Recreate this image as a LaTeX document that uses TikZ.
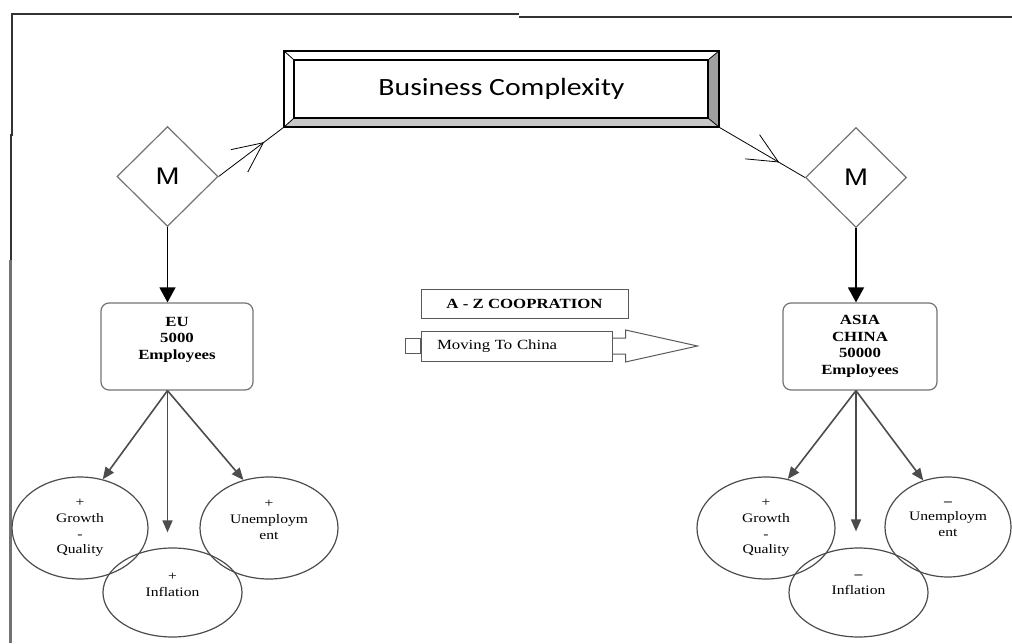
\documentclass[tikz,border=0pt]{standalone}
\usepackage{fontspec}
\setmainfont{Liberation Serif}[FakeStretch=1.2]
\newfontfamily\bcfont{Carlito}[FakeStretch=1.2]
\newfontfamily\mfont{Liberation Sans}[FakeStretch=1.2]
\usetikzlibrary{shapes.geometric,arrows.meta,decorations.markings}

\definecolor{bevelgray}{HTML}{A0A0A0}
\definecolor{bevellight}{HTML}{C8C8C8}

\tikzset{
  bcbox/.style={minimum width=217.5pt, minimum height=38pt, inner sep=0pt,
    font=\bcfont\fontsize{12.4}{14}\selectfont},
  mdiamond/.style={diamond, draw=black!55, line width=0.6pt, minimum width=50.5pt,
    minimum height=50pt, inner sep=0pt, font=\mfont\fontsize{12}{14}\selectfont},
  regionbox/.style={draw=black!55, line width=0.6pt, rounded corners=4pt, align=center,
    inner sep=0pt, minimum height=43.5pt, font=\bfseries\fontsize{7}{8.25}\selectfont},
  effect/.style={ellipse, draw=black!70, line width=0.6pt, inner sep=0pt, align=center,
    font=\fontsize{6.5}{7.9}\selectfont},
  labelbox/.style={draw=black!65, line width=0.5pt, inner sep=0pt},
  downarrow/.style={-{Triangle[length=7.5pt,width=8pt]}, line width=0.7pt},
  effarrow/.style={-{Triangle[length=6pt,width=5pt]}, draw=black!70, line width=0.8pt},
  linkarrow/.style={thin, postaction={decorate},
    decoration={markings, mark=at position 0.7 with {\arrow{Straight Barb[length=15pt,width=14pt]}}}},
}

\begin{document}
\begin{tikzpicture}[x=0.5pt, y=-0.5pt]
    \useasboundingbox (0,0) rectangle (1012,643);

    % page frame
    \draw[line width=1.2pt, black!55] (10.5,643) -- (10.5,260);
    \draw[line width=1pt, black!80] (10.5,260) -- (10.5,135) -- (12,135) -- (12,14) -- (519,14);
    \draw[line width=1pt, black!80] (519,16.5) -- (1012,16.5);

    % business complexity (bevelled box)
    \node[bcbox] (bc) at (501.5,89) {Business Complexity};
    \coordinate (bcin1) at ([shift={(10,-9)}]bc.south west);
    \coordinate (bcin2) at ([shift={(-11,9)}]bc.north east);
    \fill[bevellight] (bc.south west) -- (bc.south east) -- (bcin2 |- bcin1) -- (bcin1) -- cycle;
    \fill[bevelgray] (bc.south east) -- (bc.north east) -- (bcin2) -- (bcin2 |- bcin1) -- cycle;
    \draw[line width=1pt] (bc.south west) rectangle (bc.north east);
    \draw[line width=1pt] (bcin1) rectangle (bcin2);
    \draw[thin] (bc.south west) -- (bcin1) (bc.north east) -- (bcin2)
        (bc.north west) -- (bcin1 |- bcin2) (bc.south east) -- (bcin2 |- bcin1);

    % M diamonds
    \node[mdiamond] (mL) at (167.5,176.5) {M};
    \node[mdiamond] (mR) at (856,177.5) {M};
    \draw[linkarrow] (mL.east) -- (bc.south west);
    \draw[linkarrow] (bc.south east) -- (mR.west);

    % regions
    \node[regionbox, minimum width=76pt] (eu) at (177,346.5) {EU\\5000\\Employees\\~};
    \node[regionbox, minimum width=77pt] (asia) at (860,346.5) {ASIA\\CHINA\\50000\\Employees};
    \draw[downarrow] (mL.south) -- (mL.south |- eu.north);
    \draw[downarrow] (mR.south) -- (mR.south |- asia.north);

    % cooperation and move
    \node[labelbox, minimum width=103.5pt, minimum height=14.5pt,
        font=\bfseries\fontsize{7}{8}\selectfont] (az) at (524.5,303.5) {A - Z COOPRATION};
    \node[labelbox, minimum height=15pt, text width=79.5pt, inner xsep=8pt, align=left,
        font=\fontsize{7}{8}\selectfont] (mv) at (516.5,346) {Moving To China};
    \draw[black!65, line width=0.5pt] ([shift={(-15,-7.5)}]mv.west) rectangle ([shift={(0,7.5)}]mv.west);
    \draw[black!65, line width=0.5pt] ([shift={(0,-8)}]mv.east) -- ++(13,0) -- ++(0,-8)
        -- ++(72,16) -- ++(-72,16) -- ++(0,-8) -- ++(-13,0);

    % effects EU
    \node[effect, minimum width=68pt, minimum height=51pt] (gL) at (80,528) {+\\Growth\\-\\Quality};
    \node[effect, minimum width=69.5pt, minimum height=44.5pt] (iL) at (172.5,592.5) {+\\Inflation\\~};
    \node[effect, minimum width=69pt, minimum height=51pt] (uL) at (269,528) {+\\Unemploym\\ent\\~};
    \draw[effarrow] (mL |- eu.south) -- (gL.65);
    \draw[effarrow] (mL |- eu.south) -- ([yshift=7.5pt]mL |- iL.north);
    \draw[effarrow] (mL |- eu.south) -- (uL.118);

    % effects Asia
    \node[effect, minimum width=69pt, minimum height=51pt] (gR) at (766,528) {+\\Growth\\-\\Quality};
    \node[effect, minimum width=69.5pt, minimum height=44.5pt] (iR) at (858.5,592.5) {\textbf{--}\\Inflation\\~};
    \node[effect, minimum width=63pt, minimum height=50pt] (uR) at (948,527) {\textbf{--}\\Unemploym\\ent\\~};
    \draw[effarrow] (mR |- asia.south) -- (gR.66);
    \draw[effarrow] (mR |- asia.south) -- ([yshift=8pt]mR |- iR.north);
    \draw[effarrow] (mR |- asia.south) -- (uR.118);
\end{tikzpicture}
\end{document}
